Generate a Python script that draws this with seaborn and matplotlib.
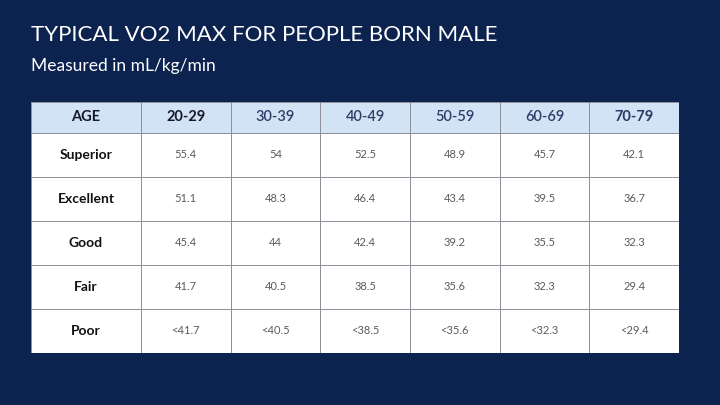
import numpy as np
import pandas as pd
import seaborn as sns
import matplotlib
matplotlib.use("Agg")
import matplotlib.pyplot as plt
from matplotlib.colors import ListedColormap

# ---------------- data ----------------
title = "TYPICAL VO2 MAX FOR PEOPLE BORN MALE"
subtitle = "Measured in mL/kg/min"
corner_label = "AGE"
ages = ["20-29", "30-39", "40-49", "50-59", "60-69", "70-79"]
levels = ["Superior", "Excellent", "Good", "Fair", "Poor"]
superior = [55.4, 54, 52.5, 48.9, 45.7, 42.1]
excellent = [51.1, 48.3, 46.4, 43.4, 39.5, 36.7]
good = [45.4, 44, 42.4, 39.2, 35.5, 32.3]
fair = [41.7, 40.5, 38.5, 35.6, 32.3, 29.4]
poor_below = fair  # "Poor" is below the "Fair" threshold

# ---------------- build table ----------------
def fmt(v):
    return f"{v:g}"

rows = [[corner_label] + ages]
for lvl, vals in zip(levels[:4], [superior, excellent, good, fair]):
    rows.append([lvl] + [fmt(v) for v in vals])
rows.append([levels[4]] + ["<" + fmt(v) for v in poor_below])
labels = np.array(rows, dtype=object)

shade = np.zeros(labels.shape)
shade[0, :] = 1  # header row
df = pd.DataFrame(shade)

BG = "#0c2350"
HEADER_BG = "#d3e3f6"
GRID = "#8e9099"

sns.set_theme(style="white")
plt.rcParams["font.family"] = ["Lato", "DejaVu Sans"]

fig = plt.figure(figsize=(7.2, 4.05), dpi=100, facecolor=BG)
W, H = 720, 405
left, right, top, bottom = 31, 679, 102, 353
ax = fig.add_axes([left / W, 1 - bottom / H, (right - left) / W, (bottom - top) / H])

sns.heatmap(df, ax=ax, cmap=ListedColormap(["white", HEADER_BG]), vmin=0, vmax=1,
            annot=labels, fmt="", cbar=False, linewidths=0.7, linecolor=GRID,
            xticklabels=False, yticklabels=False, square=False)

# non-uniform column widths (first column wider) and row heights (header shorter)
a = 110.0 / (538.0 / 6.0)
def fx(x):
    x = np.asarray(x, dtype=float)
    return np.where(x <= 1, x * a, x + (a - 1))
def ix(y):
    y = np.asarray(y, dtype=float)
    return np.where(y <= a, y / a, y - (a - 1))
b = 31.0 / 44.0
def fy(y):
    y = np.asarray(y, dtype=float)
    return np.where(y <= 1, y * b, y + (b - 1))
def iy(v):
    v = np.asarray(v, dtype=float)
    return np.where(v <= b, v / b, v - (b - 1))
ax.set_xscale("function", functions=(fx, ix))
ax.set_yscale("function", functions=(fy, iy))
ax.set_xlim(0, 7)
ax.set_ylim(6, 0)
ax.set_xticks([])
ax.set_yticks([])
ax.minorticks_off()
ax.tick_params(left=False, bottom=False, which="both")
for s in ax.spines.values():
    s.set_visible(False)

# style annotation texts
ncols = labels.shape[1]
for k, t in enumerate(ax.texts):
    r, c = divmod(k, ncols)
    if r == 0:
        if c in (0, 1):
            t.set_color("#15192a")
            t.set_fontweight("bold")
        elif c == 6:
            t.set_color("#2a3762")
            t.set_fontweight("bold")
        else:
            t.set_color("#2f3d68")
            t.set_fontweight("semibold")
        t.set_fontsize(10.5)
    elif c == 0:
        t.set_color("#111111")
        t.set_fontweight("bold")
        t.set_fontsize(10)
    else:
        t.set_color("#5a5a5a")
        t.set_fontweight("normal")
        t.set_fontsize(8)

fig.text(31 / W, 1 - 35 / H, title, color="white", fontsize=16, fontweight="normal",
         ha="left", va="center")
fig.text(31 / W, 1 - 66 / H, subtitle, color="white", fontsize=12.5,
         ha="left", va="center")

fig.savefig("out.png", dpi=100, facecolor=BG)
